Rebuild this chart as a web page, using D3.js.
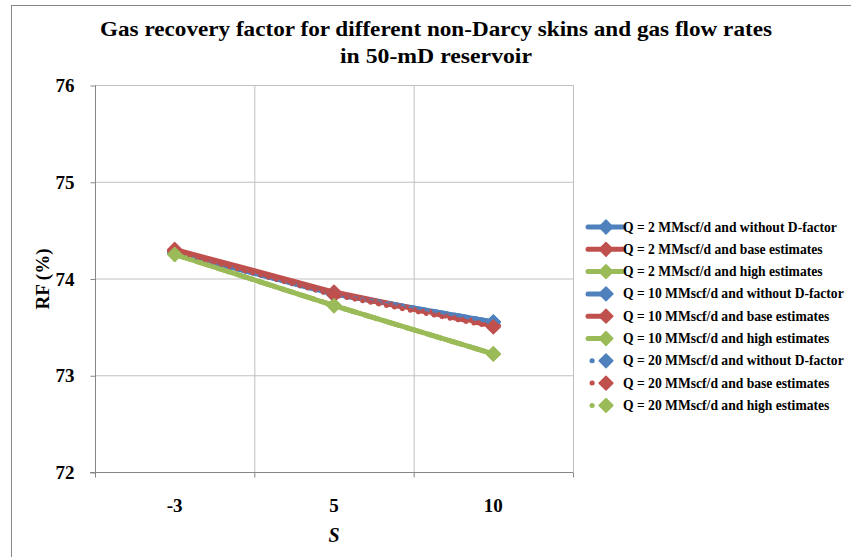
<!DOCTYPE html>
<html>
<head>
<meta charset="utf-8">
<script src="https://cdnjs.cloudflare.com/ajax/libs/d3/7.8.5/d3.min.js"></script>
<style>
  body { margin: 0; background: #fff; }
  svg text { font-family: "Liberation Serif", "Times New Roman", serif; font-weight: bold; fill: #000; }
</style>
</head>
<body>
<div id="chart"></div>
<script>
var width = 851, height = 557;

// data
var skins = ["-3", "5", "10"];
var yTicks = [72, 73, 74, 75, 76];
var seriesNames = [
  "Q = 2 MMscf/d and without D-factor",
  "Q = 2 MMscf/d and base estimates",
  "Q = 2 MMscf/d and high estimates",
  "Q = 10 MMscf/d and without D-factor",
  "Q = 10 MMscf/d and base estimates",
  "Q = 10 MMscf/d and high estimates",
  "Q = 20 MMscf/d and without D-factor",
  "Q = 20 MMscf/d and base estimates",
  "Q = 20 MMscf/d and high estimates"
];
var q2NoD = [74.27, 73.84, 73.55];
var q2Base = [74.30, 73.86, 73.52];
var q2High = [74.25, 73.72, 73.22];
var q10NoD = [74.27, 73.84, 73.55];
var q10Base = [74.29, 73.85, 73.51];
var q10High = [74.25, 73.72, 73.22];
var q20NoD = [74.27, 73.83, 73.55];
var q20Base = [74.28, 73.83, 73.50];
var q20High = [74.25, 73.72, 73.22];

var seriesValues = [q2NoD, q2Base, q2High, q10NoD, q10Base, q10High, q20NoD, q20Base, q20High];
var colors = ["#4F81BD", "#C0504D", "#9BBB59"];
var dashes = ["none", "16,6", "0.1,8"];

var series = seriesNames.map(function (n, i) {
  return { name: n, values: seriesValues[i], color: colors[i % 3], dash: dashes[Math.floor(i / 3)] };
});

var svg = d3.select("#chart").append("svg")
  .attr("width", width)
  .attr("height", height);

// outer chart frame
svg.append("rect")
  .attr("x", 11.5).attr("y", 5.5)
  .attr("width", 860).attr("height", 600)
  .attr("fill", "none")
  .attr("stroke", "#868686");

var plot = { left: 95, right: 573, top: 85, bottom: 472 };

var xBand = d3.scaleBand().domain(skins).range([plot.left, plot.right]);
var x = d3.scalePoint().domain(skins).range([plot.left, plot.right]).padding(0.5);
var y = d3.scaleLinear().domain([72, 76]).range([plot.bottom, plot.top]);

// gridlines
svg.append("g").selectAll("line.h")
  .data(yTicks.slice(1))
  .enter().append("line")
  .attr("x1", plot.left).attr("x2", plot.right)
  .attr("y1", d => y(d) + 0.5).attr("y2", d => y(d) + 0.5)
  .attr("stroke", "#C0C0C0");

svg.append("g").selectAll("line.v")
  .data(skins.slice(1).concat(["end"]))
  .enter().append("line")
  .attr("x1", d => (d === "end" ? plot.right : xBand(d)) + 0.5)
  .attr("x2", d => (d === "end" ? plot.right : xBand(d)) + 0.5)
  .attr("y1", plot.top).attr("y2", plot.bottom)
  .attr("stroke", "#C0C0C0");

// axes
var yAxis = d3.axisLeft(y).tickValues(yTicks).tickFormat(d3.format("d")).tickSize(5).tickPadding(16);
var gy = svg.append("g").attr("transform", "translate(" + (plot.left + 0.5) + ",0.5)").call(yAxis);
gy.selectAll("path, line").attr("stroke", "#868686");
gy.select(".domain").attr("d", "M0," + plot.top + "V" + plot.bottom);
gy.selectAll("text")
  .style("font-size", "19px")
  .style("font-weight", "bold")
  .style("font-family", "'Liberation Serif', serif")
  .attr("fill", "#000");

var gx = svg.append("g").attr("transform", "translate(0," + (plot.bottom + 0.5) + ")");
gx.append("line")
  .attr("x1", plot.left - 5).attr("x2", plot.right)
  .attr("stroke", "#868686");
gx.selectAll("line.tick")
  .data(skins.slice(1).concat(["end"]))
  .enter().append("line")
  .attr("x1", d => (d === "end" ? plot.right : xBand(d)) + 0.5)
  .attr("x2", d => (d === "end" ? plot.right : xBand(d)) + 0.5)
  .attr("y1", 0).attr("y2", 5)
  .attr("stroke", "#868686");
gx.append("line").attr("x1", plot.left + 0.5).attr("x2", plot.left + 0.5).attr("y1", 0).attr("y2", 5).attr("stroke", "#868686");
gx.selectAll("text")
  .data(skins)
  .enter().append("text")
  .attr("x", d => x(d))
  .attr("y", 39)
  .attr("text-anchor", "middle")
  .style("font-size", "19px")
  .text(d => d);

// axis titles
svg.append("text")
  .attr("x", 334).attr("y", 542)
  .attr("text-anchor", "middle")
  .style("font-size", "20px").style("font-style", "italic")
  .text("S");

svg.append("text")
  .attr("transform", "translate(49,279) rotate(-90)")
  .attr("text-anchor", "middle")
  .style("font-size", "19px")
  .text("RF (%)");

// title
var title1 = svg.append("text")
  .attr("x", 436).attr("y", 36)
  .attr("text-anchor", "middle")
  .style("font-size", "21px")
  .text("Gas recovery factor for different non-Darcy skins and gas flow rates");
title1.attr("textLength", 672).attr("lengthAdjust", "spacingAndGlyphs");
var title2 = svg.append("text")
  .attr("x", 436).attr("y", 63)
  .attr("text-anchor", "middle")
  .style("font-size", "21px")
  .text("in 50-mD reservoir");
title2.attr("textLength", 192).attr("lengthAdjust", "spacingAndGlyphs");

// lines
var line = d3.line()
  .x((d, i) => x(skins[i]))
  .y(d => y(d));

var diamond = d3.symbol().type(d3.symbolDiamond2).size(120);

var sg = svg.append("g").selectAll("g.series")
  .data(series)
  .enter().append("g");

sg.append("path")
  .attr("d", d => line(d.values))
  .attr("fill", "none")
  .attr("stroke", d => d.color)
  .attr("stroke-width", 5)
  .attr("stroke-linecap", d => d.dash === "0.1,8" ? "round" : "butt")
  .attr("stroke-linejoin", "round")
  .attr("stroke-dasharray", d => d.dash);

sg.selectAll("path.mk")
  .data(d => d.values.map(v => ({ v: v, color: d.color })))
  .enter().append("path")
  .attr("class", "mk")
  .attr("d", diamond)
  .attr("transform", (d, i) => "translate(" + x(skins[i]) + "," + y(d.v) + ")")
  .attr("fill", d => d.color)
  .attr("stroke", d => d.color)
  .attr("stroke-width", 1.5)
  .attr("stroke-linejoin", "round");

// legend
var legend = svg.append("g").attr("transform", "translate(588,227)");
var li = legend.selectAll("g")
  .data(series)
  .enter().append("g")
  .attr("transform", (d, i) => "translate(0," + (i * 22.3) + ")");

li.append("line")
  .attr("x1", d => d.dash === "0.1,8" ? 4 : 0)
  .attr("x2", d => d.dash === "none" ? 35 : (d.dash === "16,6" ? 14 : 4.2))
  .attr("stroke", d => d.color)
  .attr("stroke-width", 5)
  .attr("stroke-linecap", "round");

li.append("path")
  .attr("d", diamond)
  .attr("transform", "translate(18,0)")
  .attr("fill", d => d.color)
  .attr("stroke", d => d.color)
  .attr("stroke-width", 1.5)
  .attr("stroke-linejoin", "round");

li.append("text")
  .attr("x", 35)
  .attr("y", 4.5)
  .style("font-size", "13.6px")
  .text(d => d.name);
</script>
</body>
</html>
